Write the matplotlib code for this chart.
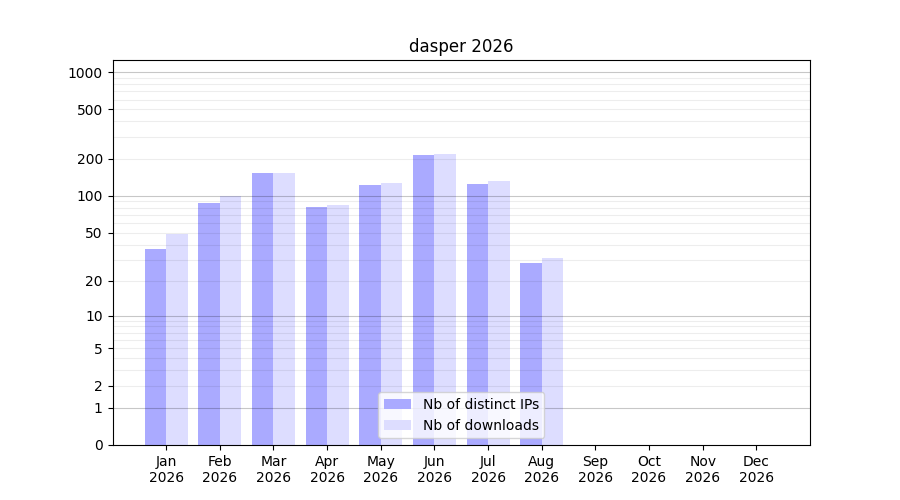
import numpy as np
import matplotlib
matplotlib.use("Agg")
import matplotlib.pyplot as plt

months = ["Jan", "Feb", "Mar", "Apr", "May", "Jun", "Jul", "Aug", "Sep", "Oct", "Nov", "Dec"]
year = "2026"
distinct_ips = [37, 87, 153, 81, 122, 214, 124, 28]
downloads = [49, 100, 153, 85, 127, 218, 132, 31]

ytick_vals = [0, 1, 2, 5, 10, 20, 50, 100, 200, 500, 1000]


def fwd(v):
    return np.log10(1 + np.clip(v, 0, None))


def inv(v):
    return 10 ** v - 1


fig, ax = plt.subplots(figsize=(9, 5), dpi=100)
ax.set_yscale("function", functions=(fwd, inv))

x = np.arange(len(months))
n = len(distinct_ips)
ax.bar(x[:n] - 0.2, distinct_ips, width=0.4, color="#aaaaff", label="Nb of distinct IPs", zorder=1)
ax.bar(x[:n] + 0.2, downloads, width=0.4, color="#ddddff", label="Nb of downloads", zorder=1)

# grid drawn on top, translucent so it shows through the bars
for dec in [1, 10, 100]:
    for m in range(2, 10):
        ax.axhline(dec * m, color="black", alpha=0.07, lw=0.8, zorder=2)
for v in [1, 10, 100, 1000]:
    ax.axhline(v, color="black", alpha=0.22, lw=0.8, zorder=2)

ax.set_ylim(0, 1250)
ax.set_xlim(-1, 12)
ax.set_yticks(ytick_vals)
ax.set_yticklabels([str(v) for v in ytick_vals])
ax.yaxis.set_minor_locator(matplotlib.ticker.NullLocator())
ax.set_xticks(x)
ax.set_xticklabels([f"{m}\n{year}" for m in months])

ax.set_title("dasper 2026")
ax.legend(loc="lower center")

plt.savefig("out.png", dpi=100)
